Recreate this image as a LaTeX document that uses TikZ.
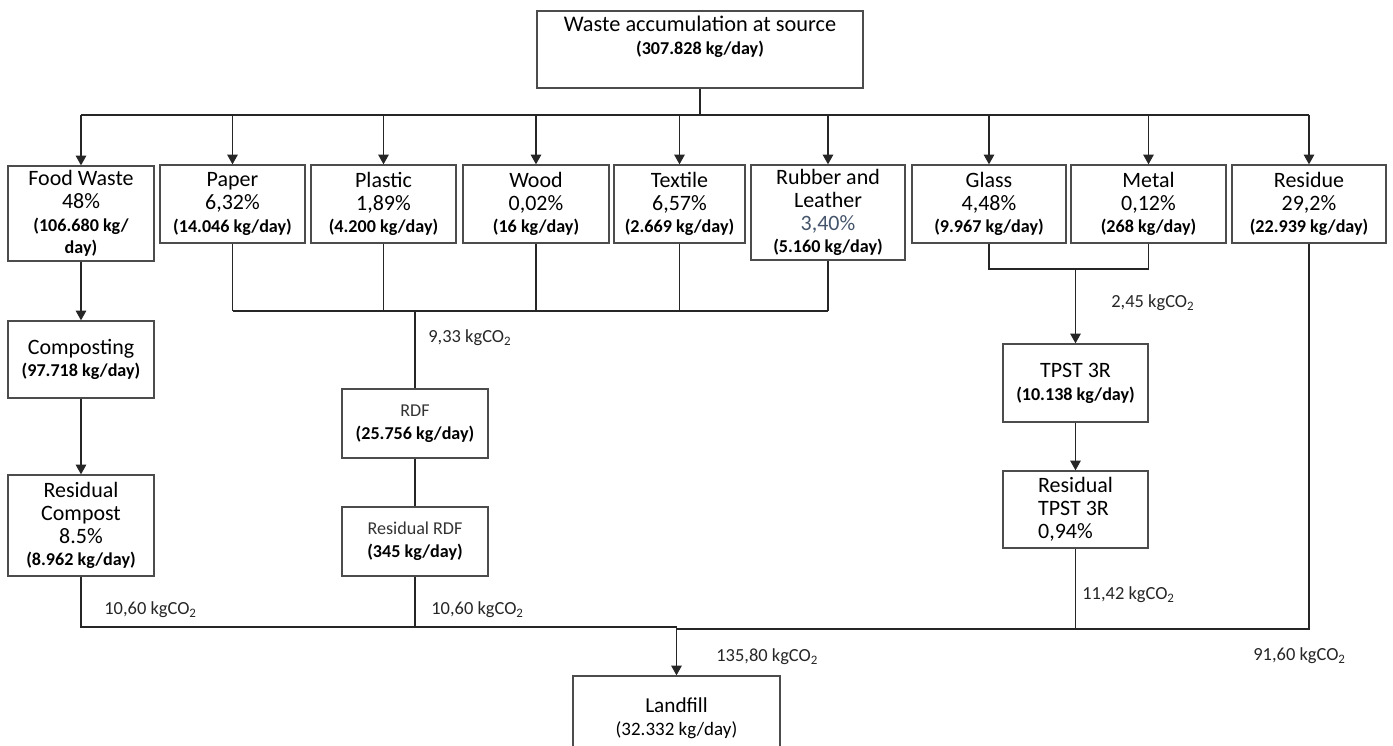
\documentclass[tikz,border=0pt]{standalone}
\usepackage{fontspec}
\setmainfont{Carlito}
\usepackage{xcolor}
\usetikzlibrary{arrows.meta}
\definecolor{slate}{RGB}{68,84,106}
\newcommand{\kgd}[1]{{\fontsize{10.3}{13}\selectfont\bfseries(#1 kg/day)}}
\newcommand{\co}[1]{#1 kgCO\textsubscript{2}}

\begin{document}
\begin{tikzpicture}[x=0.02cm,y=-0.02cm,
  box/.style={draw=black!70,line width=0.8pt,align=center,inner sep=1pt,font=\fontsize{12.5}{13}\selectfont},
  cat/.style={box,minimum width=2.9cm,minimum height=1.56cm},
  proc/.style={box,minimum width=2.92cm,minimum height=1.54cm},
  lbl/.style={anchor=west,inner sep=0pt,font=\fontsize{10.5}{12}\selectfont,text=black!85},
  link/.style={draw=black!85,line width=0.6pt},
  arr/.style={link,-{Triangle[length=5.5pt,width=6pt]}}]
\useasboundingbox (0,0) rectangle (1393,745);

\node (src) at (700,49.5) [box,minimum width=6.52cm,minimum height=1.54cm,text depth=16pt]
  {{\fontsize{12.7}{13}\selectfont Waste accumulation at source}\\\kgd{307.828}};

\node (food) at (81,213.5) [box,minimum width=2.92cm,minimum height=1.9cm]
  {Food Waste\\48\%\\{\fontsize{10.3}{13}\selectfont\bfseries(106.680 kg/}\\{\fontsize{10.3}{13}\selectfont\bfseries day)}};
\node (paper) at (232.5,204) [cat] {Paper\\6,32\%\\\kgd{14.046}};
\node (plastic) at (383.5,204) [cat] {Plastic\\1,89\%\\\kgd{4.200}};
\node (wood) at (536,204) [cat,minimum width=2.92cm] {Wood\\0,02\%\\\kgd{16}};
\node (textile) at (679.5,204) [cat,minimum width=2.62cm] {Textile\\6,57\%\\\kgd{2.669}};
\node (rubber) at (828,212.5) [box,minimum width=3.08cm,minimum height=1.9cm]
  {Rubber and\\Leather\\\textcolor{slate}{3,40\%}\\\kgd{5.160}};
\node (glass) at (989,204) [cat,minimum width=3.08cm] {Glass\\4,48\%\\\kgd{9.967}};
\node (metal) at (1148.5,204) [cat,minimum width=3.1cm] {Metal\\0,12\%\\\kgd{268}};
\node (residue) at (1309,204) [cat,minimum width=3.08cm] {Residue\\29,2\%\\\kgd{22.939}};

\node (compost) at (81,359.5) [proc] {Composting\\\kgd{97.718}};
\node (rescompost) at (81,525.5) [proc,minimum height=2.02cm] {Residual\\Compost\\8.5\%\\\kgd{8.962}};

\node (rdf) at (415,423.5) [proc,minimum height=1.38cm]
  {{\fontsize{10.3}{13}\selectfont\color{black!80}RDF}\\\kgd{25.756}};
\node (resrdf) at (415,541.5) [proc,minimum height=1.38cm]
  {{\fontsize{10.3}{13}\selectfont\color{black!80}Residual RDF}\\\kgd{345}};

\node (tpst) at (1075.5,383) [proc,minimum width=2.9cm,minimum height=1.56cm] {TPST 3R\\\kgd{10.138}};
\node (restpst) at (1075.5,509.5) [proc,minimum width=2.9cm,align=left] {Residual\\TPST 3R\\0,94\%};

\node (landfill) at (676.5,718) [box,minimum width=4.14cm,minimum height=1.68cm]
  {{\fontsize{12.1}{13}\selectfont Landfill}\\{\fontsize{10.8}{13}\selectfont(32.332 kg/day)}};

\coordinate (bus) at (0,115);
\coordinate (mix) at (0,311);
\coordinate (gm) at (0,269);
\coordinate (lf) at (0,627);
\coordinate (lfr) at (0,629);

\draw[link] (src.south) -- (src.south |- bus);
\draw[link] (food.north |- bus) -- (residue.north |- bus);
\foreach \n in {food,paper,plastic,wood,textile,rubber,glass,metal,residue}
  \draw[arr] (\n.north |- bus) -- (\n.north);

\foreach \n in {paper,plastic,wood,textile,rubber}
  \draw[link] (\n.south) -- (\n.south |- mix);
\draw[link] (paper.south |- mix) -- (rubber.south |- mix);
\draw[link] (rdf.north |- mix) -- (rdf.north);
\draw[link] (rdf.south) -- (resrdf.north);

\draw[arr] (food.south) -- (compost.north);
\draw[arr] (compost.south) -- (rescompost.north);

\draw[link] (glass.south) -- (glass.south |- gm) -- (metal.south |- gm) -- (metal.south);
\draw[arr] (tpst.north |- gm) -- (tpst.north);
\draw[arr] (tpst.south) -- (restpst.north);

\draw[link] (rescompost.south) -- (rescompost.south |- lf) -- (landfill.north |- lf);
\draw[link] (resrdf.south) -- (resrdf.south |- lf);
\draw[link] (residue.south) -- (residue.south |- lfr) -- (landfill.north |- lfr);
\draw[link] (restpst.south) -- (restpst.south |- lfr);
\draw[arr] (landfill.north |- lf) -- (landfill.north);

\node (co2mix) at (428,338) [lbl] {\co{9,33}};
\node (co2gm) at (1111,303) [lbl] {\co{2,45}};
\node (co2comp) at (104,610) [lbl] {\co{10,60}};
\node (co2rdf) at (431,610) [lbl] {\co{10,60}};
\node (co2tpst) at (1082,595) [lbl] {\co{11,42}};
\node (co2lf) at (716,657) [lbl] {\co{135,80}};
\node (co2res) at (1253,656) [lbl] {\co{91,60}};
\end{tikzpicture}
\end{document}
